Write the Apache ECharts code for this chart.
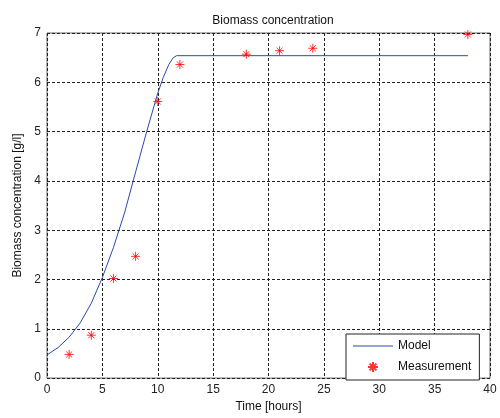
<!DOCTYPE html>
<html><head><meta charset="utf-8">
<script src="https://cdn.jsdelivr.net/npm/echarts@6/dist/echarts.min.js"></script>
<style>html,body{margin:0;padding:0;background:#fff}#c{width:500px;height:418px}</style>
</head><body><div id="c"></div>
<script>
var modelTime = [0, 1, 2, 3, 4, 5, 6, 7, 8, 9, 10, 10.5, 11, 11.4, 11.7, 38];
var modelBiomass = [0.47, 0.62, 0.83, 1.12, 1.52, 2.04, 2.65, 3.35, 4.18, 5.0, 5.78, 6.1, 6.36, 6.5, 6.54, 6.54];
var measTime = [2, 4, 6, 8, 10, 12, 18, 21, 24, 38];
var measBiomass = [0.48, 0.87, 2.02, 2.47, 5.61, 6.36, 6.57, 6.64, 6.69, 6.97];
var xTicks = [0, 5, 10, 15, 20, 25, 30, 35, 40];
var yTicks = [0, 1, 2, 3, 4, 5, 6, 7];

var star = 'path://M5 0L5 10M0 5L10 5M1.6 1.6L8.4 8.4M8.4 1.6L1.6 8.4';
var starLegend = 'path://M0 0M40 14M20 2L20 12M15 7L25 7M16.6 3.6L23.4 10.4M23.4 3.6L16.6 10.4';
var lineLegend = 'path://M0 0M40 14M0 6.5L40 6.5L40 7.5L0 7.5Z';
var font = 'Liberation Sans, Arial, sans-serif';
var chart = echarts.init(document.getElementById('c'), null, {renderer: 'canvas'});
chart.setOption({
  backgroundColor: '#fff',
  animation: false,
  title: {text: 'Biomass concentration', left: 268, top: 10, textAlign: 'center',
    textStyle: {fontFamily: font, fontSize: 12, fontWeight: 'normal', color: '#111'}},
  grid: {left: 47, right: 10, top: 33, bottom: 37, show: true, borderColor: '#666', borderWidth: 1, backgroundColor: '#fff'},
  xAxis: {type: 'value', min: xTicks[0], max: xTicks[xTicks.length-1], interval: 5,
    name: 'Time [hours]', nameLocation: 'middle', nameGap: 22,
    nameTextStyle: {fontFamily: font, fontSize: 12, color: '#111'},
    axisLine: {show: false}, axisTick: {show: false},
    axisLabel: {fontFamily: font, fontSize: 12, color: '#222', margin: 6},
    splitLine: {show: true, lineStyle: {color: '#222', type: [3, 2], width: 1}}},
  yAxis: {type: 'value', min: yTicks[0], max: yTicks[yTicks.length-1], interval: 1,
    name: 'Biomass concentration [g/l]', nameLocation: 'middle', nameGap: 20,
    nameTextStyle: {fontFamily: font, fontSize: 12, color: '#111'},
    axisLine: {show: false}, axisTick: {show: false},
    axisLabel: {fontFamily: font, fontSize: 12, color: '#222', margin: 6},
    splitLine: {show: true, lineStyle: {color: '#222', type: [3, 2], width: 1}}},
  legend: {orient: 'vertical', left: 346, top: 334, width: 139,
    backgroundColor: '#fff', borderColor: '#222', borderWidth: 1,
    padding: [5, 8, 5, 6], itemGap: 6, itemWidth: 40, itemHeight: 14,
    textStyle: {fontFamily: font, fontSize: 12, color: '#111'},
    data: [{name: 'Model', icon: lineLegend}, {name: 'Measurement', icon: starLegend}]},
  series: [
    {name: 'Model', type: 'line', showSymbol: false, symbol: 'none',
      data: modelTime.map(function (t, i) { return [t, modelBiomass[i]]; }),
      lineStyle: {color: '#2a4aa8', width: 1}, itemStyle: {color: '#2a4aa8'}},
    {name: 'Measurement', type: 'scatter', symbol: star, symbolSize: 9,
      data: measTime.map(function (t, i) { return [t, measBiomass[i]]; }),
      itemStyle: {color: '#ff0000', borderColor: '#ff0000', borderWidth: 1}}
  ]
});
</script></body></html>
